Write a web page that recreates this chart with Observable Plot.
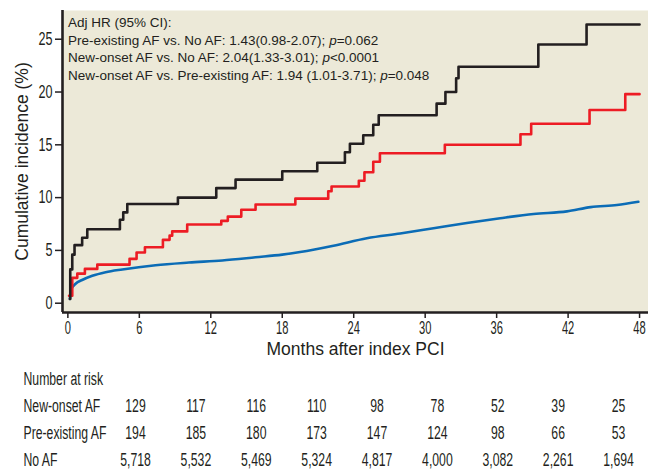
<!DOCTYPE html>
<html><head><meta charset="utf-8">
<script src="https://cdn.jsdelivr.net/npm/d3@7"></script>
<script src="https://cdn.jsdelivr.net/npm/@observablehq/plot@0.6"></script>
<style>
body{margin:0;background:#fff;}
#wrap{position:relative;width:648px;height:475px;overflow:hidden;}
#wrap svg{display:block;}
#note{position:absolute;left:68px;top:14px;font:13.5px "Liberation Sans",Arial,sans-serif;line-height:17.5px;color:#231f20;white-space:nowrap;}
</style></head><body>
<div id="wrap"><div id="chart"></div><div id="risk"></div>
<div id="note">Adj HR (95% CI):<br>Pre-existing AF vs. No AF: 1.43(0.98-2.07); <i>p</i>=0.062<br>New-onset AF vs. No AF: 2.04(1.33-3.01); <i>p</i>&lt;0.0001<br>New-onset AF vs. Pre-existing AF: 1.94 (1.01-3.71); <i>p</i>=0.048</div>
</div>
<script>
// ---- data ----
const newOnsetMonths = [0.17,0.2,0.37,0.56,1.2,1.63,4.37,4.65,4.99,9.24,12.46,14.08,18.0,20.94,23.26,23.68,24.8,25.64,26.1,30.96,31.7,32.6,32.8,39.5,43.55,48.0];
const newOnsetInc    = [0.4,3.2,4.6,5.5,6.2,7.0,7.9,8.6,9.4,10.0,10.9,11.7,12.5,13.3,14.3,15.1,15.9,16.9,17.8,18.9,20.0,21.3,22.4,24.5,26.4,26.4];

const preMonths = [0.1,0.37,0.79,1.43,2.47,5.18,5.77,6.47,7.98,8.54,8.76,10.02,12.88,13.43,14.56,15.76,19.1,21.86,22.14,24.43,24.9,25.64,26.2,31.65,38.0,38.9,43.8,46.8,48.0];
const preInc    = [0.7,2.4,2.8,3.25,3.65,4.2,4.8,5.3,6.0,6.4,6.8,7.45,7.8,8.2,8.85,9.35,9.9,10.6,11.05,11.6,12.4,13.4,14.2,15.0,16.0,17.0,18.3,19.8,19.8];

const noAFMonths = [0.17,0.3,0.65,1.2,2.05,3.17,4.57,7.36,10.16,12.96,15.76,18.0,19.5,22.3,25.1,27.9,30.7,33.5,36.3,39.1,41.9,43.9,46.1,47.9];
const noAFInc    = [0.4,1.36,1.84,2.2,2.6,2.94,3.2,3.6,3.85,4.05,4.35,4.6,4.85,5.45,6.15,6.6,7.1,7.6,8.05,8.45,8.7,9.1,9.3,9.6];

const xTicks = [0,6,12,18,24,30,36,42,48];
const yTicks = [0,5,10,15,20,25];

const riskGroups = ["New-onset AF","Pre-existing AF","No AF"];
const riskNewOnset = [129,117,116,110,98,78,52,39,25];
const riskPre      = [194,185,180,173,147,124,98,66,53];
const riskNoAF     = [5718,5532,5469,5324,4817,4000,3082,2261,1694];

// ---- styling ----
const BG = "#ece9d8", INK = "#231f20";
const BLACK = "#231f20", RED = "#ed1c24", BLUE = "#0b6cb6";
const SANS = '"Liberation Sans",Arial,sans-serif';
const X_DOMAIN = [-0.45, 48.75], Y_DOMAIN = [-0.88, 27.72];

const toRows = (ts, vs) => ts.map((t, i) => ({t, v: vs[i]}));
const newOnset = toRows(newOnsetMonths, newOnsetInc);
const pre = toRows(preMonths, preInc);
const noAF = toRows(noAFMonths, noAFInc);

// squeeze text horizontally about its anchor to mimic the condensed face of the original
function condense(root, selector, factor) {
  root.querySelectorAll(selector).forEach(t => {
    const tr = t.getAttribute("transform") || "";
    t.setAttribute("transform", `${tr} scale(${factor},1)`.trim());
  });
}

const chart = Plot.plot({
  width: 648, height: 365,
  marginLeft: 62, marginRight: 0, marginTop: 10, marginBottom: 53,
  style: {fontFamily: SANS, fontSize: "18px", color: INK, background: "transparent"},
  x: {domain: X_DOMAIN},
  y: {domain: Y_DOMAIN},
  marks: [
    Plot.frame({fill: BG, stroke: null}),
    Plot.line(noAF, {x: "t", y: "v", stroke: BLUE, strokeWidth: 2.6, curve: "monotone-x"}),
    Plot.line(pre, {x: "t", y: "v", stroke: RED, strokeWidth: 2.6, curve: "step-after"}),
    Plot.line(newOnset, {x: "t", y: "v", stroke: BLACK, strokeWidth: 2.6, curve: "step-after"}),
    Plot.ruleX([X_DOMAIN[0]], {stroke: INK, strokeWidth: 2.6}),
    Plot.ruleY([Y_DOMAIN[0]], {stroke: INK, strokeWidth: 2.6}),
    Plot.axisY({ticks: yTicks, tickSize: 7, tickPadding: 3, label: null, stroke: INK, strokeWidth: 1.5, fill: INK}),
    Plot.axisX({ticks: xTicks, tickSize: 6, tickPadding: 3, label: null, stroke: INK, strokeWidth: 1.5, fill: INK}),
    Plot.text(["Months after index PCI"], {frameAnchor: "bottom", dy: 42, fontFamily: SANS, fontSize: 17.5, fill: INK}),
    Plot.text(["Cumulative incidence (%)"], {frameAnchor: "left", textAnchor: "middle", dx: -40, rotate: -90, fontFamily: SANS, fontSize: 17.5, fill: INK})
  ]
});
document.getElementById("chart").appendChild(chart);
condense(chart, 'g[aria-label="x-axis tick label"] text', 0.62);
condense(chart, 'g[aria-label="y-axis tick label"] text', 0.7);

const rowNames = ["Number at risk", ...riskGroups];
const riskRows = [];
[riskNewOnset, riskPre, riskNoAF].forEach((vals, g) => vals.forEach((n, i) => riskRows.push({row: riskGroups[g], i, n})));

const risk = Plot.plot({
  width: 648, height: 110,
  marginLeft: 0, marginRight: 0, marginTop: 0, marginBottom: 0,
  style: {fontFamily: SANS, fontSize: "18px", color: INK, background: "transparent"},
  x: {domain: [0, 8], range: [135, 618], axis: null},
  y: {type: "point", domain: rowNames, range: [13, 96], padding: 0, axis: null},
  marks: [
    Plot.text(rowNames, {y: d => d, frameAnchor: "left", dx: 23, textAnchor: "start", fill: INK}),
    Plot.text(riskRows, {x: "i", y: "row", text: d => d3.format(",")(d.n), fill: INK})
  ]
});
document.getElementById("risk").appendChild(risk);
condense(risk, "text", 0.68);
</script>
</body></html>
